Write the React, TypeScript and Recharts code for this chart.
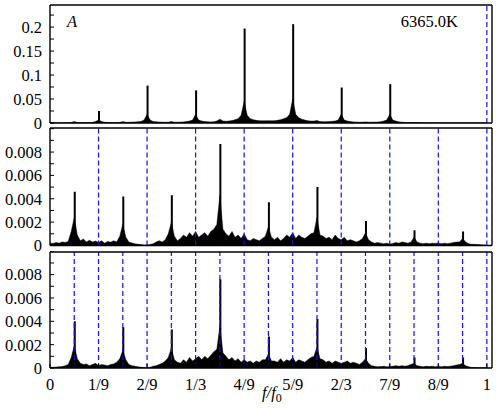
import React from 'react';
import { ComposedChart, Area, Bar, XAxis, YAxis, ReferenceLine } from 'recharts';

// continuum of the spectrum, one value per bin of f/f0 = 1/144
const TOP_AMP = [
  0.0003, 0.0004, 0.0005, 0.0005, 0.0006, 0.0006, 0.0007, 0.001, 0.003, 0.001, 0.0008, 0.0008, 0.0009, 0.001, 0.0014, 0.003,
  0.006, 0.003, 0.0015, 0.0011, 0.001, 0.001, 0.0011, 0.0013, 0.003, 0.0014, 0.0014, 0.0016, 0.002, 0.0026, 0.003, 0.006,
  0.018, 0.006, 0.003, 0.0026, 0.002, 0.0016, 0.0015, 0.0016, 0.003, 0.0016, 0.0016, 0.0018, 0.0022, 0.003, 0.004, 0.006,
  0.018, 0.006, 0.004, 0.003, 0.0024, 0.0022, 0.0024, 0.004, 0.008, 0.004, 0.0035, 0.004, 0.005, 0.007, 0.009, 0.016,
  0.045, 0.016, 0.009, 0.007, 0.0055, 0.0048, 0.0045, 0.0045, 0.0048, 0.0046, 0.0048, 0.0055, 0.007, 0.009, 0.011, 0.018,
  0.05, 0.018, 0.011, 0.008, 0.006, 0.0045, 0.004, 0.004, 0.005, 0.003, 0.0028, 0.0028, 0.003, 0.0035, 0.004, 0.006,
  0.018, 0.006, 0.004, 0.003, 0.0022, 0.0018, 0.0016, 0.0016, 0.0022, 0.0016, 0.0016, 0.0018, 0.002, 0.0026, 0.004, 0.006,
  0.018, 0.006, 0.004, 0.0024, 0.0016, 0.0012, 0.001, 0.0009, 0.0009, 0.0008, 0.0008, 0.0007, 0.0007, 0.0007, 0.0006, 0.0006,
  0.0006, 0.0005, 0.0005, 0.0005, 0.0005, 0.0004, 0.0004, 0.0004, 0.0004, 0.0004, 0.0003, 0.0003, 0.0003, 0.0003, 0.0003, 0.0003,
  0.0003,
];

const MID_AMP = [
  0.0002, 0.00018, 0.00025, 0.0002, 0.0003, 0.00026, 0.00035, 0.0012, 0.0024, 0.0009, 0.0004, 0.00055, 0.0003, 0.00045, 0.0003, 0.00038,
  0.00025, 0.0004, 0.0002, 0.00035, 0.00028, 0.0004, 0.0003, 0.0008, 0.0018, 0.0007, 0.0003, 0.00022, 0.00015, 0.0001, 0.00008, 0.00005,
  0.00003, 0.00008, 0.00015, 0.0003, 0.0004, 0.0003, 0.0005, 0.001, 0.002, 0.0008, 0.0004, 0.0006, 0.0009, 0.0007, 0.0011, 0.0008,
  0.0012, 0.0007, 0.0009, 0.0011, 0.0008, 0.0012, 0.0014, 0.0018, 0.0043, 0.0014, 0.001, 0.0008, 0.0012, 0.0007, 0.0009, 0.0006,
  0.001, 0.0005, 0.0004, 0.0006, 0.0005, 0.0004, 0.0006, 0.0008, 0.0016, 0.0007, 0.0005, 0.0007, 0.0004, 0.0006, 0.0009, 0.0007,
  0.0011, 0.0006, 0.0009, 0.0007, 0.0006, 0.0008, 0.001, 0.0011, 0.0024, 0.0009, 0.0008, 0.0006, 0.0007, 0.0005, 0.0009, 0.0006,
  0.0005, 0.0007, 0.0004, 0.0005, 0.0004, 0.0003, 0.0004, 0.0006, 0.0011, 0.0005, 0.0003, 0.0002, 0.00025, 0.0002, 0.00015, 0.0002,
  0.00012, 0.00018, 0.00025, 0.0002, 0.0003, 0.00025, 0.0002, 0.0003, 0.0007, 0.0003, 0.0002, 0.00015, 0.0002, 0.00015, 0.0002, 0.00018,
  0.00022, 0.00015, 0.0002, 0.00016, 0.0002, 0.00025, 0.0003, 0.0003, 0.0006, 0.0003, 0.00015, 0.0001, 0.0001, 0.00008, 0.00006, 0.00005,
  0.00005,
];

const BOT_AMP = [
  0.00005, 0.00006, 0.00008, 0.0001, 0.00012, 0.0002, 0.0003, 0.0009, 0.0019, 0.0008, 0.0004, 0.0003, 0.00035, 0.0002, 0.0003, 0.0004,
  0.0002, 0.0003, 0.00025, 0.0002, 0.0003, 0.00035, 0.0005, 0.0008, 0.0015, 0.0007, 0.0003, 0.0002, 0.00015, 0.0001, 0.00006, 0.00004,
  0.00003, 0.00006, 0.00015, 0.0002, 0.0003, 0.0004, 0.0006, 0.0009, 0.0017, 0.0007, 0.0005, 0.0004, 0.0007, 0.0005, 0.0009, 0.0006,
  0.0008, 0.001, 0.0007, 0.001, 0.0008, 0.0011, 0.0014, 0.0016, 0.0036, 0.0013, 0.001, 0.0007, 0.0009, 0.0006, 0.0008, 0.0005,
  0.0007, 0.0005, 0.0006, 0.0004, 0.0006, 0.0005, 0.0007, 0.0007, 0.0012, 0.0006, 0.0006, 0.0005, 0.0008, 0.0005, 0.0007, 0.0006,
  0.0009, 0.0005, 0.0007, 0.0006, 0.0005, 0.0007, 0.0009, 0.001, 0.0018, 0.0008, 0.0007, 0.0005, 0.0006, 0.0004, 0.0006, 0.0005,
  0.0004, 0.0005, 0.0006, 0.0004, 0.0005, 0.0004, 0.0003, 0.0005, 0.0008, 0.0004, 0.0002, 0.00015, 0.0001, 0.00012, 0.00015, 0.0001,
  0.00012, 0.00015, 0.0002, 0.00015, 0.0002, 0.00015, 0.0002, 0.0003, 0.0004, 0.0002, 0.00015, 0.0001, 0.00015, 0.00012, 0.00015, 0.0001,
  0.00015, 0.0001, 0.00015, 0.00012, 0.00015, 0.0002, 0.00025, 0.0003, 0.0004, 0.0002, 0.0001, 0.00005, 0.00004, 0.00003, 0.00003, 0.00003,
  0.00003,
];

// narrow spectral lines sitting on the continuum
const TOP_SPIKE_BINS = [16, 32, 48, 64, 80, 96, 112];
const TOP_SPIKES = [0.025, 0.078, 0.068, 0.197, 0.206, 0.074, 0.081];
const HALF_SPIKE_BINS = [8, 24, 40, 56, 72, 88, 104, 120, 136];
const MID_SPIKES = [0.0046, 0.0042, 0.0043, 0.0087, 0.0037, 0.005, 0.0021, 0.0013, 0.0012];
const BOT_SPIKES = [0.004, 0.0035, 0.0033, 0.0076, 0.0027, 0.0042, 0.0017, 0.0009, 0.0009];

// x ticks every 1/18 (8 bins), labels on ninths
const X_TICKS = [0, 8, 16, 24, 32, 40, 48, 56, 64, 72, 80, 88, 96, 104, 112, 120, 128, 136, 144];
const X_LABELS = ['0', '', '1/9', '', '2/9', '', '1/3', '', '4/9', '', '5/9', '', '2/3', '', '7/9', '', '8/9', '', '1'];

const TOP_Y_TICKS = [0, 0.025, 0.05, 0.075, 0.1, 0.125, 0.15, 0.175, 0.2, 0.225];
const TOP_Y_LABELS = ['0', '', '0.05', '', '0.1', '', '0.15', '', '0.2', ''];
const SMALL_Y_TICKS = [0, 0.001, 0.002, 0.003, 0.004, 0.005, 0.006, 0.007, 0.008, 0.009, 0.01];
const SMALL_Y_LABELS = ['0', '', '0.002', '', '0.004', '', '0.006', '', '0.008', '', ''];

// dashed markers (in bins)
const TOP_DASH = [144];
const MID_DASH = [16, 32, 48, 64, 80, 96, 112, 128, 144];
const BOT_DASH = [8, 16, 24, 32, 40, 48, 56, 64, 72, 80, 88, 96, 104, 112, 120, 128, 136, 144];

const spikeAt = (bins: number[], vals: number[], i: number) => {
  const k = bins.indexOf(i);
  return k >= 0 ? vals[k] : null;
};

const data = TOP_AMP.map((v, i) => ({
  bin: i,
  top: v,
  mid: MID_AMP[i],
  bot: BOT_AMP[i],
  topLine: spikeAt(TOP_SPIKE_BINS, TOP_SPIKES, i),
  midLine: spikeAt(HALF_SPIKE_BINS, MID_SPIKES, i),
  botLine: spikeAt(HALF_SPIKE_BINS, BOT_SPIKES, i),
}));

const FONT = '"Liberation Serif", "Times New Roman", "DejaVu Serif", serif';
const FONT_SIZE = 16.5;
const X_MAX = 145.7;

interface PanelProps {
  dataKey: string;
  yMax: number;
  yTicks: number[];
  yLabels: string[];
  dashes: number[];
  plotHeight: number;
  bottomRoom: number;
  showX: boolean;
}

const Panel: React.FC<PanelProps> = ({ dataKey, yMax, yTicks, yLabels, dashes, plotHeight, bottomRoom, showX }) => {
  const axisStyle = { stroke: '#000', strokeWidth: 1.4 };
  const tickFont = { fill: '#000', fontSize: FONT_SIZE, fontFamily: FONT };
  return (
    <ComposedChart
      width={500}
      height={plotHeight + 2 + bottomRoom}
      data={data}
      margin={{ top: 0, right: 7, bottom: bottomRoom, left: 0 }}
    >
      <XAxis
        xAxisId="b"
        dataKey="bin"
        type="number"
        domain={[0, X_MAX]}
        allowDataOverflow
        ticks={X_TICKS}
        interval={0}
        height={1}
        tickSize={-4}
        tickMargin={14}
        axisLine={axisStyle}
        tickLine={{ stroke: '#000' }}
        tick={showX ? tickFont : false}
        tickFormatter={(v, i) => X_LABELS[i]}
      />
      <XAxis
        xAxisId="t"
        orientation="top"
        type="number"
        domain={[0, X_MAX]}
        allowDataOverflow
        ticks={X_TICKS}
        interval={0}
        height={1}
        tickSize={-4}
        axisLine={axisStyle}
        tickLine={{ stroke: '#000' }}
        tick={false}
      />
      <YAxis
        yAxisId="l"
        type="number"
        domain={[0, yMax]}
        allowDataOverflow
        ticks={yTicks}
        interval={0}
        width={50}
        tickSize={-4}
        tickMargin={12}
        axisLine={axisStyle}
        tickLine={{ stroke: '#000' }}
        tick={tickFont}
        tickFormatter={(v, i) => yLabels[i]}
      />
      <YAxis
        yAxisId="r"
        orientation="right"
        type="number"
        domain={[0, yMax]}
        allowDataOverflow
        ticks={yTicks}
        interval={0}
        width={1}
        tickSize={-4}
        axisLine={axisStyle}
        tickLine={{ stroke: '#000' }}
        tick={false}
      />
      <Area
        xAxisId="b"
        yAxisId="l"
        dataKey={dataKey}
        type="linear"
        stroke="#000"
        strokeWidth={0.5}
        fill="#000"
        fillOpacity={1}
        dot={false}
        activeDot={false}
        isAnimationActive={false}
      />
      <Bar
        xAxisId="b"
        yAxisId="l"
        dataKey={dataKey + 'Line'}
        fill="#000"
        barSize={2}
        isAnimationActive={false}
      />
      {dashes.map((d) => (
        <ReferenceLine
          key={d}
          xAxisId="b"
          yAxisId="l"
          x={d}
          stroke="#1010ff"
          strokeWidth={1.2}
          strokeDasharray="5 3"
        />
      ))}
    </ComposedChart>
  );
};

export default function App() {
  return (
    <div style={{ position: 'absolute', left: 0, top: 0, width: 500, height: 413, background: '#fff' }}>
      <div style={{ position: 'absolute', left: 0, top: 4 }}>
        <Panel dataKey="top" yMax={0.246} yTicks={TOP_Y_TICKS} yLabels={TOP_Y_LABELS} dashes={TOP_DASH}
          plotHeight={118} bottomRoom={10} showX={false} />
      </div>
      <div style={{ position: 'absolute', left: 0, top: 127 }}>
        <Panel dataKey="mid" yMax={0.01006} yTicks={SMALL_Y_TICKS} yLabels={SMALL_Y_LABELS} dashes={MID_DASH}
          plotHeight={117.5} bottomRoom={10} showX={false} />
      </div>
      <div style={{ position: 'absolute', left: 0, top: 250.5 }}>
        <Panel dataKey="bot" yMax={0.00994} yTicks={SMALL_Y_TICKS} yLabels={SMALL_Y_LABELS} dashes={BOT_DASH}
          plotHeight={116} bottomRoom={45} showX={true} />
      </div>
      <svg width={500} height={413} style={{ position: 'absolute', left: 0, top: 0, pointerEvents: 'none' }}>
        <text x={67} y={27} fontFamily={FONT} fontSize={FONT_SIZE} fontStyle="italic">A</text>
        <text x={458} y={27} fontFamily={FONT} fontSize={FONT_SIZE} textAnchor="end">6365.0K</text>
        <text x={262} y={398} fontFamily={FONT} fontSize={FONT_SIZE}>
          <tspan fontStyle="italic">f</tspan>
          <tspan fontStyle="italic">/</tspan>
          <tspan fontStyle="italic">f</tspan>
          <tspan fontSize={12} dy={4}>0</tspan>
        </text>
      </svg>
    </div>
  );
}
